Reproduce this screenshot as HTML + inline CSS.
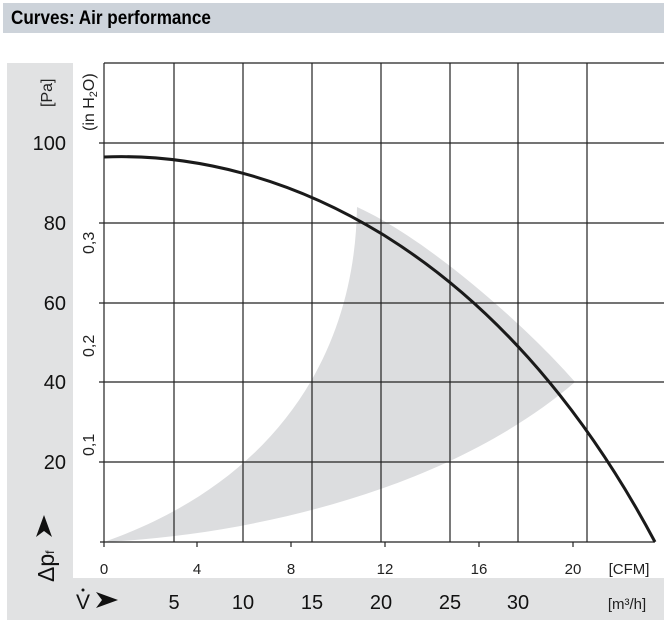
<!DOCTYPE html>
<html><head><style>
body{margin:0;width:664px;height:627px;background:#fff;font-family:"Liberation Sans",sans-serif;overflow:hidden;position:relative}
.hdr{position:absolute;left:3px;top:3px;width:661px;height:30px;background:#cdd3da}
.hdr span{position:absolute;left:8px;top:5px;font-size:19px;font-weight:bold;color:#000;transform:scaleX(0.9);transform-origin:left}
</style></head><body>
<div class="hdr"><span>Curves: Air performance</span></div>
<svg width="664" height="627" style="position:absolute;left:0;top:0">
<rect x="7" y="63" width="66" height="557" fill="#e1e2e3"/>
<rect x="7" y="578" width="657" height="42" fill="#e1e2e3"/>
<rect x="73" y="63" width="591" height="515" fill="#fff"/>
<path d="M104,542 C250,535 450,490 575,382 C530,330 430,240 357,207 C355,350 280,480 104,542 Z" fill="#dcdddf"/>
<g stroke="#222" stroke-width="1.2">
<line x1="104" y1="63" x2="664" y2="63"/>
<line x1="99" y1="143" x2="664" y2="143"/>
<line x1="99" y1="223" x2="664" y2="223"/>
<line x1="99" y1="303" x2="664" y2="303"/>
<line x1="99" y1="382" x2="664" y2="382"/>
<line x1="99" y1="462" x2="664" y2="462"/>
<line x1="100" y1="542" x2="655" y2="542"/>
<line x1="104" y1="63" x2="104" y2="547"/>
<line x1="174" y1="63" x2="174" y2="542"/>
<line x1="243" y1="63" x2="243" y2="542"/>
<line x1="312" y1="63" x2="312" y2="542"/>
<line x1="381" y1="63" x2="381" y2="542"/>
<line x1="450" y1="63" x2="450" y2="542"/>
<line x1="518" y1="63" x2="518" y2="542"/>
<line x1="587" y1="63" x2="587" y2="542"/>
<line x1="197" y1="542" x2="197" y2="547"/>
<line x1="291" y1="542" x2="291" y2="547"/>
<line x1="385" y1="542" x2="385" y2="547"/>
<line x1="479" y1="542" x2="479" y2="547"/>
<line x1="573" y1="542" x2="573" y2="547"/>
</g>
<path fill="none" stroke="#1a1a1a" stroke-width="3" d="M104,157 C280,150 500,250 655,542"/>
<g font-size="20" fill="#111" text-anchor="end">
<text x="66" y="150">100</text><text x="66" y="230">80</text><text x="66" y="310">60</text><text x="66" y="389">40</text><text x="66" y="469">20</text>
</g>
<g font-size="15" fill="#222" text-anchor="middle">
<text x="104" y="574">0</text><text x="197" y="574">4</text><text x="291" y="574">8</text><text x="385" y="574">12</text><text x="479" y="574">16</text><text x="573" y="574">20</text>
<text x="629" y="574">[CFM]</text>
</g>
<g font-size="20" fill="#111" text-anchor="middle">
<text x="174" y="609">5</text><text x="243" y="609">10</text><text x="312" y="609">15</text><text x="381" y="609">20</text><text x="450" y="609">25</text><text x="518" y="609">30</text>
</g>
<text x="627" y="609" font-size="15" fill="#222" text-anchor="middle">[m³/h]</text>
<text x="76" y="609" font-size="21" fill="#111">V</text>
<circle cx="83" cy="590" r="1.5" fill="#111"/>
<path d="M96,592 L118,600 L96,608 L102,600 Z" fill="#111"/>
<g font-size="16" fill="#222">
<text transform="translate(52,107) rotate(-90)">[Pa]</text>
<text transform="translate(94,131) rotate(-90)">(in H<tspan font-size="11" dy="3">2</tspan><tspan dy="-3">O)</tspan></text>
<text transform="translate(94,254) rotate(-90)">0,3</text>
<text transform="translate(94,357) rotate(-90)">0,2</text>
<text transform="translate(94,456) rotate(-90)">0,1</text>
</g>
<text transform="translate(54,582) rotate(-90)" font-size="23" fill="#111">Δp<tspan font-size="12">f</tspan></text>
<path d="M36,537 L44,515 L52,537 L44,531 Z" fill="#111"/>
</svg>
</body></html>
